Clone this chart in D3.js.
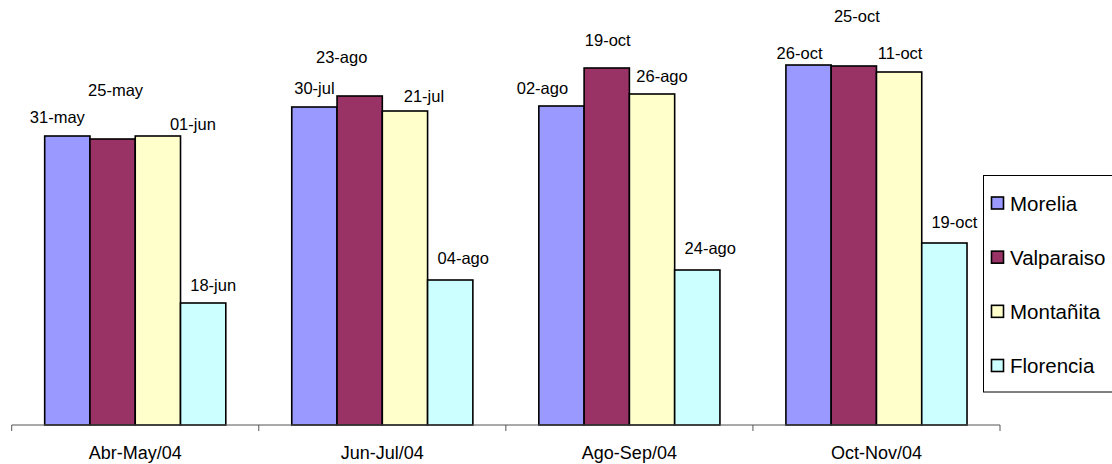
<!DOCTYPE html>
<html>
<head>
<meta charset="utf-8">
<script src="https://cdn.jsdelivr.net/npm/d3@7/dist/d3.min.js"></script>
<style>
  html, body { margin: 0; padding: 0; background: #fff; }
  svg { display: block; font-family: "Liberation Sans", Arial, sans-serif; }
</style>
</head>
<body>
<svg id="chart" width="1112" height="464"></svg>
<script>
// Periods on the x axis
const periods = ["Abr-May/04", "Jun-Jul/04", "Ago-Sep/04", "Oct-Nov/04"];
// Sites (one bar per site in every period)
const sites = ["Morelia", "Valparaiso", "Montañita", "Florencia"];
const siteColors = ["#9999FF", "#993366", "#FFFFCC", "#CCFFFF"];

// Bar values per site, one entry per period
const morelia    = [289, 318, 319, 360];
const valparaiso = [286, 329, 357, 359];
const montanita  = [289, 314, 331, 353];
const florencia  = [122, 145, 155, 182];

// Date labels printed over each bar
const moreliaDates    = ["31-may", "30-jul", "02-ago", "26-oct"];
const valparaisoDates = ["25-may", "23-ago", "19-oct", "25-oct"];
const montanitaDates  = ["01-jun", "21-jul", "26-ago", "11-oct"];
const florenciaDates  = ["18-jun", "04-ago", "24-ago", "19-oct"];

const values = [morelia, valparaiso, montanita, florencia];
const dates = [moreliaDates, valparaisoDates, montanitaDates, florenciaDates];

// Hand-placed label offsets [dx, dy] from the top-centre of each bar
const labelNudge = [
  [[-10, -13], [0, -13], [-19, -12], [-9, -6]],
  [[3, -43], [-18, -33], [1, -22], [3, -44]],
  [[35, -6], [19, -9], [10, -12], [1, -13]],
  [[10, -12], [13, -16], [13, -16], [10, -15]]
];

const svg = d3.select("#chart");
const baseY = 425;

const x = d3.scaleBand()
  .domain(periods)
  .range([11.7, 1000])
  .paddingInner(0.267)
  .paddingOuter(0.1335);

const xs = d3.scaleBand()
  .domain(sites)
  .range([0, x.bandwidth()]);

const y = d3.scaleLinear().domain([0, 400]).range([baseY, 25]);

// Bars
sites.forEach((s, si) => {
  svg.append("g")
    .selectAll("rect")
    .data(periods.map((p, pi) => ({ p, v: values[si][pi] })))
    .join("rect")
    .attr("x", d => x(d.p) + xs(s))
    .attr("y", d => y(d.v))
    .attr("width", xs.bandwidth())
    .attr("height", d => baseY - y(d.v))
    .attr("fill", siteColors[si])
    .attr("stroke", "#000")
    .attr("stroke-width", 1.6);
});

// Date labels
sites.forEach((s, si) => {
  svg.append("g")
    .selectAll("text")
    .data(periods.map((p, pi) => ({ p, pi, v: values[si][pi], t: dates[si][pi] })))
    .join("text")
    .attr("x", d => x(d.p) + xs(s) + xs.bandwidth() / 2 + labelNudge[si][d.pi][0])
    .attr("y", d => y(d.v) + labelNudge[si][d.pi][1])
    .attr("text-anchor", "middle")
    .attr("font-size", 16.5)
    .attr("fill", "#000")
    .text(d => d.t);
});

// Category axis with ticks between groups
const axisG = svg.append("g").attr("stroke", "#555").attr("stroke-width", 1);
axisG.append("line")
  .attr("x1", x.range()[0]).attr("x2", x.range()[1])
  .attr("y1", baseY).attr("y2", baseY);
const tickXs = periods.map(p => x(p) - x.step() * x.paddingInner() / 2)
  .concat([x.range()[1]]);
tickXs[0] = x.range()[0];
axisG.selectAll("line.tick")
  .data(tickXs)
  .join("line")
  .attr("class", "tick")
  .attr("x1", d => d).attr("x2", d => d)
  .attr("y1", baseY).attr("y2", baseY + 6);

svg.append("g")
  .selectAll("text")
  .data(periods)
  .join("text")
  .attr("x", d => x(d) + x.bandwidth() / 2)
  .attr("y", 459)
  .attr("text-anchor", "middle")
  .attr("font-size", 18)
  .attr("fill", "#000")
  .text(d => d);

// Legend
const legend = svg.append("g");
legend.append("rect")
  .attr("x", 983.5).attr("y", 175.5)
  .attr("width", 130).attr("height", 216.5)
  .attr("fill", "#fff").attr("stroke", "#000").attr("stroke-width", 1);
const ly = d3.scalePoint().domain(sites).range([203, 365.5]);
const items = legend.selectAll("g.item").data(sites).join("g").attr("class", "item");
items.append("rect")
  .attr("x", 991.5)
  .attr("y", d => ly(d) - 6)
  .attr("width", 12).attr("height", 12)
  .attr("fill", (d, i) => siteColors[i])
  .attr("stroke", "#000").attr("stroke-width", 1.6);
items.append("text")
  .attr("x", 1010)
  .attr("y", d => ly(d) + 7.5)
  .attr("font-size", 20.5)
  .attr("fill", "#000")
  .text(d => d);
</script>
</body>
</html>
